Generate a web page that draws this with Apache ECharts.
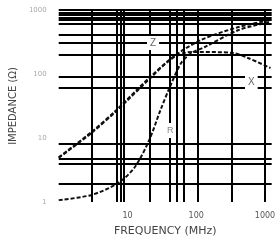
<!DOCTYPE html>
<html>
<head>
<meta charset="utf-8">
<script src="https://cdn.jsdelivr.net/npm/echarts@6/dist/echarts.min.js"></script>
<style>
  html, body { margin: 0; padding: 0; background: #fff; }
  #chart { width: 278px; height: 249px; }
</style>
</head>
<body>
<div id="chart"></div>
<script>
// frequency (MHz) / impedance (ohm)
var freqZ = [1, 3.0, 6.9, 20.7, 48, 117, 413, 1200];
var impZ  = [5.0, 12.4, 27.4, 87, 191, 340, 542, 698];

var freqR = [1, 3.0, 7.3, 12.8, 20.7, 30.2, 41.3, 60.4, 85.5, 133, 413, 1200];
var impR  = [1.07, 1.29, 1.98, 3.52, 9.3, 27.4, 62.6, 149, 213, 264, 487, 649];

var freqX = [1, 3.0, 6.9, 20.7, 41.3, 66.4, 106, 342, 567, 1200];
var impX  = [4.9, 12.0, 26.5, 83, 165, 213, 221, 213, 178, 124];

// grid lines as drawn on the sheet (not a regular log grid)
var gridFreqs = [3.0, 7.07, 7.94, 8.9, 20.9, 41, 52, 66, 106, 328, 1000];
var gridImps  = [1000, 920, 836, 769, 698, 620, 417, 313, 203, 91, 60, 8.06, 4.82, 4.02, 1.91];

var xTickLabels = [10, 100, 1000];
var yTickLabels = [1, 10, 100, 1000];

function pairs(xs, ys) {
    return xs.map(function(x, i) { return [x, ys[i]]; });
}

var myChart = echarts.init(document.getElementById('chart'), null, { renderer: 'canvas' });

var curveStyle = {
    color: '#111',
    width: 2,
    type: [4, 2]
};

var gridLines = gridFreqs.map(function(v) { return { xAxis: v }; })
    .concat(gridImps.map(function(v) { return { yAxis: v }; }));

var option = {
    animation: false,
    textStyle: { fontFamily: 'DejaVu Sans' },
    grid: { left: 52, right: 0, top: 10, bottom: 47 },
    xAxis: {
        type: 'log',
        min: 1,
        max: 1250,
        axisLine: { show: false },
        axisTick: { show: false },
        splitLine: { show: false },
        minorSplitLine: { show: false },
        name: 'FREQUENCY (MHz)',
        nameLocation: 'middle',
        nameGap: 24,
        nameTextStyle: { fontSize: 11, color: '#444' },
        axisLabel: {
            margin: 10,
            fontSize: 8,
            color: '#555',
            formatter: function(v) {
                return xTickLabels.indexOf(Math.round(v)) >= 0 ? String(Math.round(v)) : '';
            }
        }
    },
    yAxis: {
        type: 'log',
        min: 1,
        max: 1000,
        axisLine: { show: false },
        axisTick: { show: false },
        splitLine: { show: false },
        name: 'IMPEDANCE (Ω)',
        nameLocation: 'middle',
        nameGap: 22,
        nameRotate: 90,
        nameTextStyle: { fontSize: 10, color: '#444' },
        axisLabel: {
            margin: 12,
            fontSize: 7,
            color: '#aaa',
            formatter: function(v) {
                return yTickLabels.indexOf(Math.round(v)) >= 0 ? String(Math.round(v)) : '';
            }
        }
    },
    series: [
        {
            name: 'grid',
            type: 'line',
            data: [],
            z: 1,
            markLine: {
                silent: true,
                symbol: 'none',
                label: { show: false },
                lineStyle: { color: '#000', width: 2, type: 'solid' },
                data: gridLines
            }
        },
        {
            name: 'Z',
            type: 'line',
            smooth: 0.3,
            symbol: 'none',
            z: 3,
            lineStyle: curveStyle,
            data: pairs(freqZ, impZ)
        },
        {
            name: 'R',
            type: 'line',
            smooth: 0.3,
            symbol: 'none',
            z: 3,
            lineStyle: curveStyle,
            data: pairs(freqR, impR)
        },
        {
            name: 'X',
            type: 'line',
            smooth: 0.3,
            symbol: 'none',
            z: 3,
            lineStyle: curveStyle,
            data: pairs(freqX, impX)
        }
    ],
    graphic: [
        { type: 'text', left: 147, top: 36, z: 10,
          style: { text: 'Z', fontSize: 10, fill: '#666', backgroundColor: '#fff', padding: [2, 3] } },
        { type: 'text', left: 245, top: 75, z: 10,
          style: { text: 'X', fontSize: 10, fill: '#666', backgroundColor: '#fff', padding: [2, 3] } },
        { type: 'text', left: 165, top: 123, z: 10,
          style: { text: 'R', fontSize: 9, fill: '#888', backgroundColor: '#fff', padding: [3, 2] } }
    ]
};

myChart.setOption(option);
</script>
</body>
</html>
